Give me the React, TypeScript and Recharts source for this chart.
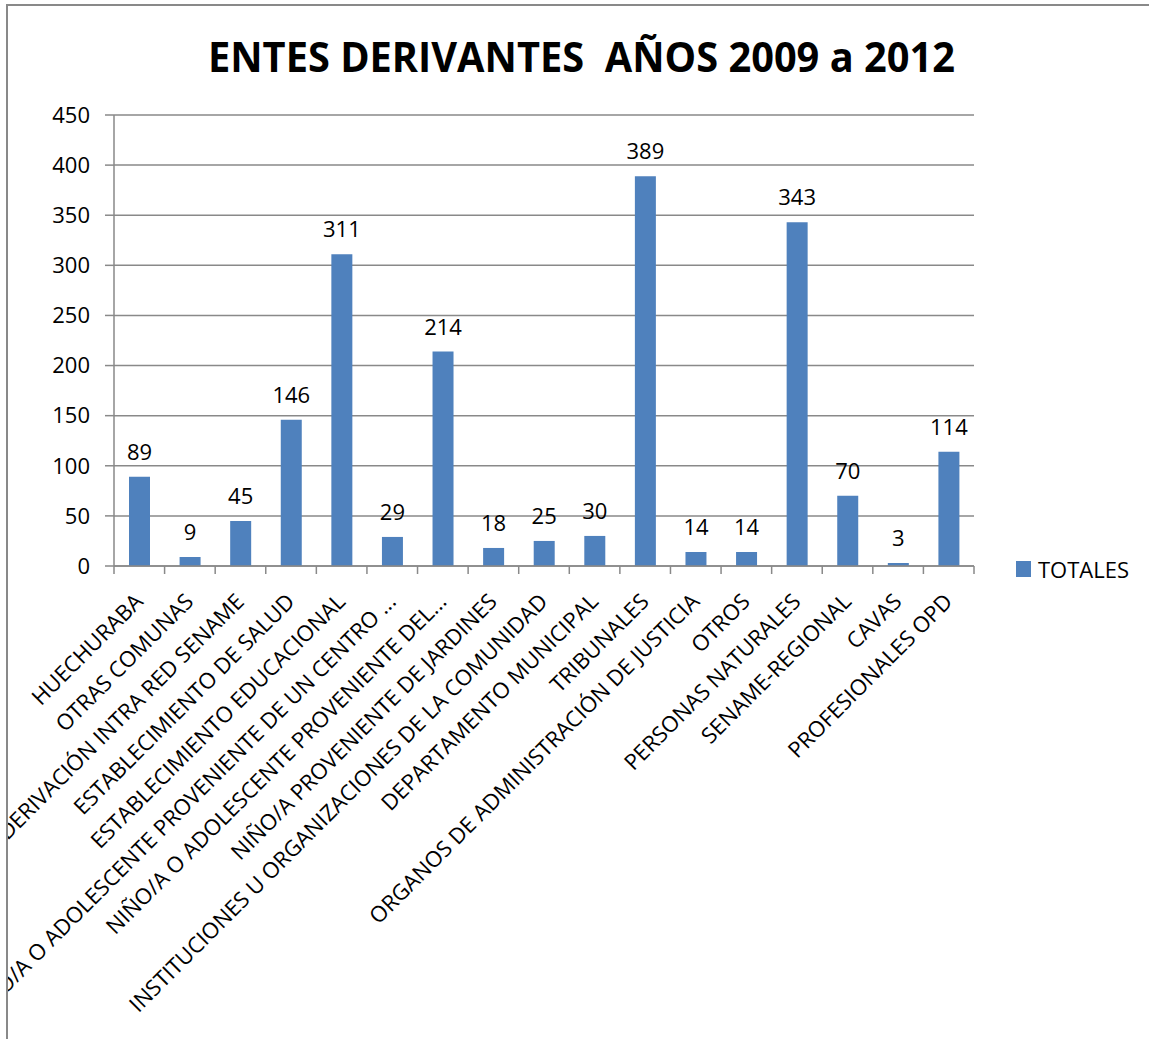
import React from 'react';
import { BarChart, Bar, XAxis, YAxis, CartesianGrid, Legend, LabelList } from 'recharts';

const categories = [
  'HUECHURABA',
  'OTRAS COMUNAS',
  'DERIVACIÓN INTRA RED SENAME',
  'ESTABLECIMIENTO DE SALUD',
  'ESTABLECIMIENTO EDUCACIONAL',
  'NIÑO/A O ADOLESCENTE PROVENIENTE DE UN CENTRO ...',
  'NIÑO/A O ADOLESCENTE PROVENIENTE DEL...',
  'NIÑO/A PROVENIENTE DE JARDINES',
  'INSTITUCIONES U ORGANIZACIONES DE LA COMUNIDAD',
  'DEPARTAMENTO MUNICIPAL',
  'TRIBUNALES',
  'ORGANOS DE ADMINISTRACIÓN DE JUSTICIA',
  'OTROS',
  'PERSONAS NATURALES',
  'SENAME-REGIONAL',
  'CAVAS',
  'PROFESIONALES OPD',
];
const totals = [89, 9, 45, 146, 311, 29, 214, 18, 25, 30, 389, 14, 14, 343, 70, 3, 114];
const yTicks = [0, 50, 100, 150, 200, 250, 300, 350, 400, 450];
const seriesName = 'TOTALES';
const title = 'ENTES DERIVANTES\u00a0 AÑOS 2009 a 2012';

const data = categories.map((name, i) => ({ name, TOTALES: totals[i] }));

const W = 1141;
const H = 1033;
const PLOT_LEFT = 106;
const PLOT_RIGHT = 966;
const PLOT_TOP = 109;
const PLOT_BOTTOM = 560;
const Y_AXIS_W = 60;
const X_AXIS_H = 30;
const GRAY = '#898989';
const BLUE = '#4f81bd';
const FONT = '"Open Sans", sans-serif';

const XTick = (props: any) => {
  const { x, y, payload, index } = props;
  const bw = (PLOT_RIGHT - PLOT_LEFT) / categories.length;
  const last = index === categories.length - 1;
  return (
    <g>
      <line x1={x - bw / 2} y1={y} x2={x - bw / 2} y2={y + 8} stroke={GRAY} strokeWidth={1.5} />
      {last && <line x1={x + bw / 2} y1={y} x2={x + bw / 2} y2={y + 8} stroke={GRAY} strokeWidth={1.5} />}
      <text
        transform={`translate(${x + 5},${y + 37}) rotate(-45)`}
        textAnchor="end"
        fontSize={22}
        fontFamily={FONT}
        fill="#000"
      >
        {payload.value}
      </text>
    </g>
  );
};

const LegendContent = () => (
  <div style={{ display: 'flex', alignItems: 'center', fontFamily: FONT, fontSize: 22, color: '#000' }}>
    <span style={{ display: 'inline-block', width: 15, height: 16, background: BLUE, marginRight: 7 }} />
    <span>{seriesName}</span>
  </div>
);

export default function App() {
  return (
    <div
      style={{
        position: 'absolute',
        left: 6,
        top: 4,
        width: W + 2,
        height: H + 2,
        borderLeft: `2px solid ${GRAY}`,
        borderTop: `2px solid ${GRAY}`,
        boxSizing: 'border-box',
        overflow: 'hidden',
        background: '#fff',
      }}
    >
      <svg width={W} height={100} style={{ position: 'absolute', left: 0, top: 0 }}>
        <text
          x={200}
          y={66}
          fontSize={41}
          fontWeight="bold"
          fontFamily={FONT}
          fill="#000"
          textLength={747}
          lengthAdjust="spacingAndGlyphs"
          style={{ whiteSpace: 'pre' }}
        >
          {title}
        </text>
      </svg>
      <BarChart
        width={W}
        height={H}
        data={data}
        margin={{
          top: PLOT_TOP,
          left: PLOT_LEFT - Y_AXIS_W,
          right: W - PLOT_RIGHT,
          bottom: H - PLOT_BOTTOM - X_AXIS_H,
        }}
        barCategoryGap={0}
      >
        <CartesianGrid vertical={false} stroke={GRAY} strokeWidth={1.5} />
        <XAxis
          dataKey="name"
          interval={0}
          height={X_AXIS_H}
          tickLine={false}
          tickSize={0}
          tickMargin={0}
          axisLine={{ stroke: GRAY, strokeWidth: 1.5 }}
          tick={<XTick />}
        />
        <YAxis
          domain={[0, 450]}
          ticks={yTicks}
          width={Y_AXIS_W}
          tickSize={9}
          tickMargin={15}
          axisLine={{ stroke: GRAY, strokeWidth: 1.5 }}
          tickLine={{ stroke: GRAY, strokeWidth: 1.5 }}
          tick={{ fill: '#000', fontSize: 22, fontFamily: FONT }}
          interval={0}
        />
        <Legend
          layout="horizontal"
          verticalAlign="middle"
          align="center"
          content={<LegendContent />}
          wrapperStyle={{ position: 'absolute', left: 1008, top: 548, width: 'auto' }}
        />
        <Bar dataKey="TOTALES" name={seriesName} fill={BLUE} barSize={21} isAnimationActive={false}>
          <LabelList dataKey="TOTALES" position="top" offset={17} fill="#000" fontSize={22} fontFamily={FONT} />
        </Bar>
      </BarChart>
    </div>
  );
}
